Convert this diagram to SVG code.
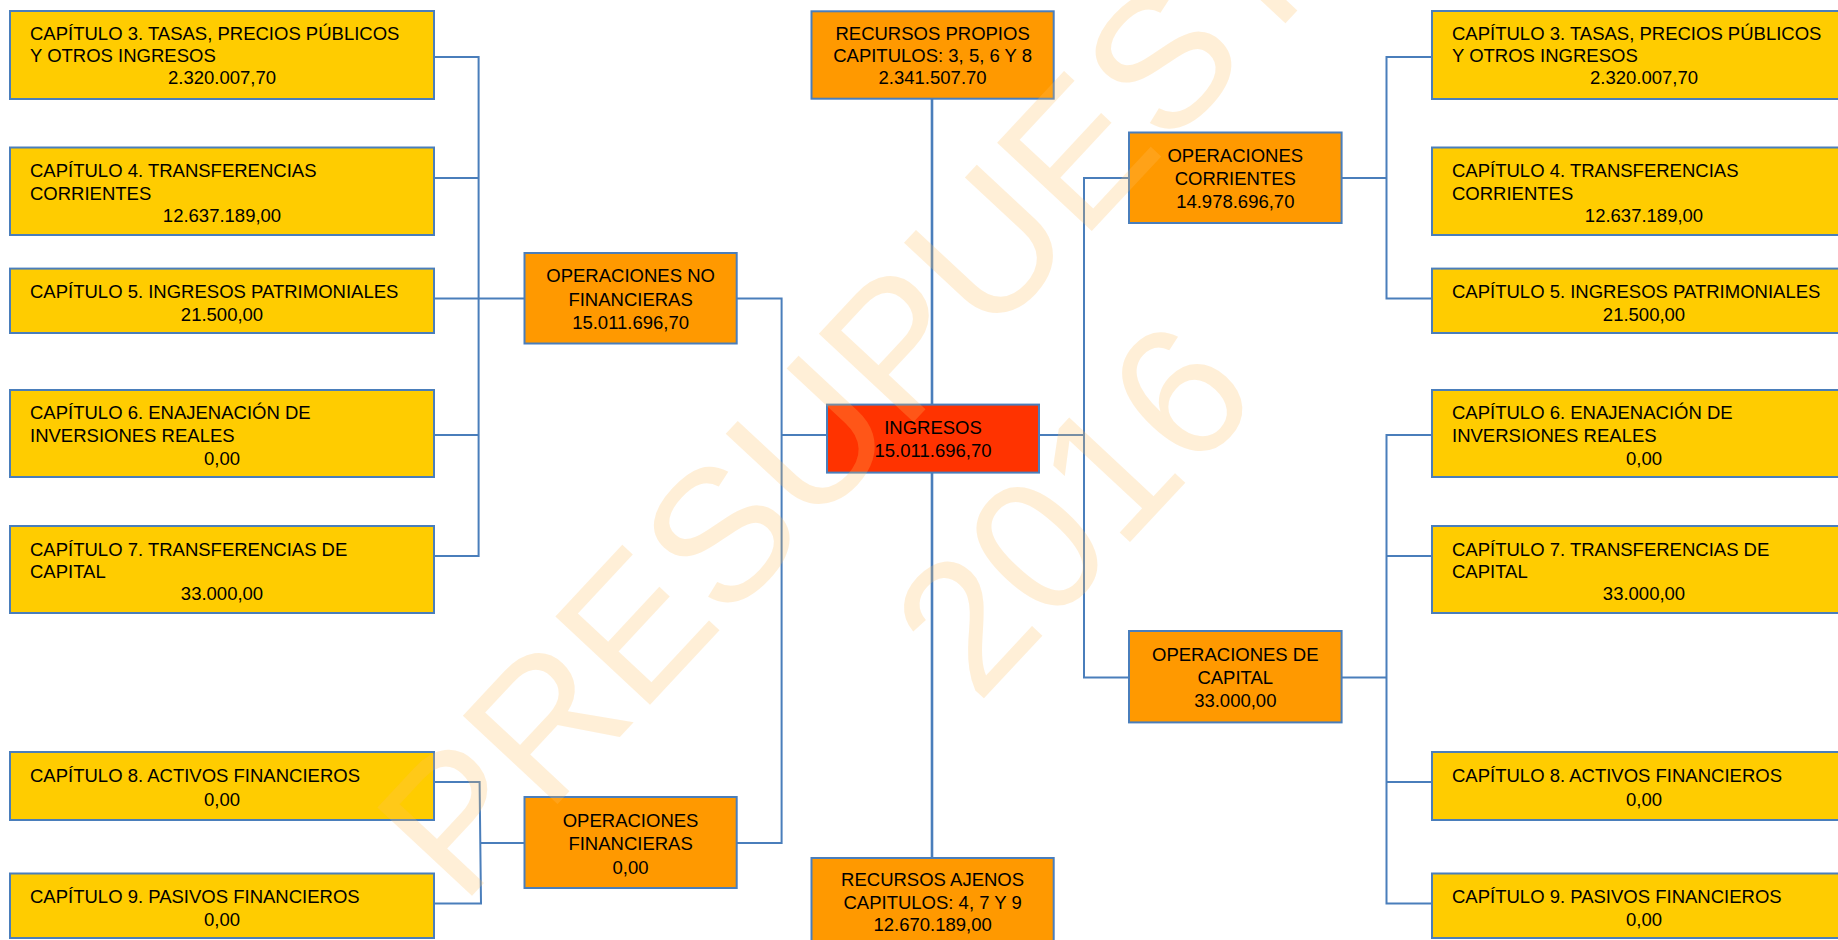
<svg xmlns="http://www.w3.org/2000/svg" width="1838" height="940" viewBox="0 0 1838 940">
<style>
.b{stroke:#4A7EBB;stroke-width:2}
.y{fill:#FFCC00}
.o{fill:#FF9900}
.r{fill:#FF3300}
text{font-family:"Liberation Sans",Arial,sans-serif;font-size:18.5px;fill:#000}
.c{text-anchor:middle}
.cn{fill:none;stroke:#4A7EBB;stroke-width:2}
.cm{fill:none;stroke:#4A7EBB;stroke-width:2.6}
.wm{font-family:"Liberation Sans",Arial,sans-serif;font-size:188px;fill:#FFC060;fill-opacity:0.25;text-anchor:middle}
</style>
<rect width="1838" height="940" fill="#fff"/>
<g id="connectors">
<path class="cn" d="M434,57 H478.6 V556 H434 M434,178 H478.6 M434,298.5 H524.5 M434,435 H478.6"/>
<path class="cn" d="M434,782 H479.6 L481,903.5 H434 M481,843 H524.5"/>
<path class="cn" d="M736.7,298.5 H781.6 V843 H736.7 M781.6,435 H827"/>
<path class="cm" d="M932,98.7 V404.6 M932,472.6 V858"/>
<path class="cn" d="M1039,435 H1084 M1129,178 H1084 V677.5 H1129"/>
<path class="cn" d="M1341.6,178 H1386.5 M1432,57 H1386.5 V298.5 H1432"/>
<path class="cn" d="M1341.6,677.5 H1386.5 M1432,435 H1386.5 V903.5 H1432 M1386.5,556 H1432 M1386.5,782 H1432"/>
</g>
<g id="l3"><rect class="b y" x="10" y="11" width="424" height="88"/><text x="30" y="39.5">CAPÍTULO 3. TASAS, PRECIOS PÚBLICOS</text><text x="30" y="62">Y OTROS INGRESOS</text><text class="c" x="222" y="84">2.320.007,70</text></g>
<g id="l4"><rect class="b y" x="10" y="147.5" width="424" height="87.5"/><text x="30" y="177">CAPÍTULO 4. TRANSFERENCIAS</text><text x="30" y="199.5">CORRIENTES</text><text class="c" x="222" y="222">12.637.189,00</text></g>
<g id="l5"><rect class="b y" x="10" y="268.6" width="424" height="64.4"/><text x="30" y="298">CAPÍTULO 5. INGRESOS PATRIMONIALES</text><text class="c" x="222" y="320.7">21.500,00</text></g>
<g id="l6"><rect class="b y" x="10" y="390" width="424" height="87"/><text x="30" y="419">CAPÍTULO 6. ENAJENACIÓN DE</text><text x="30" y="442">INVERSIONES REALES</text><text class="c" x="222" y="464.6">0,00</text></g>
<g id="l7"><rect class="b y" x="10" y="526" width="424" height="87"/><text x="30" y="556">CAPÍTULO 7. TRANSFERENCIAS DE</text><text x="30" y="578">CAPITAL</text><text class="c" x="222" y="600">33.000,00</text></g>
<g id="l8"><rect class="b y" x="10" y="752" width="424" height="68"/><text x="30" y="782">CAPÍTULO 8. ACTIVOS FINANCIEROS</text><text class="c" x="222" y="806">0,00</text></g>
<g id="l9"><rect class="b y" x="10" y="873.5" width="424" height="64.5"/><text x="30" y="903">CAPÍTULO 9. PASIVOS FINANCIEROS</text><text class="c" x="222" y="926">0,00</text></g>
<g id="onf"><rect class="b o" x="524.5" y="253" width="212.2" height="90.5"/><text class="c" x="630.6" y="282.4">OPERACIONES NO</text><text class="c" x="630.6" y="305.8">FINANCIERAS</text><text class="c" x="630.6" y="329">15.011.696,70</text></g>
<g id="of"><rect class="b o" x="524.5" y="797" width="212.2" height="91"/><text class="c" x="630.6" y="827.4">OPERACIONES</text><text class="c" x="630.6" y="850">FINANCIERAS</text><text class="c" x="630.6" y="873.5">0,00</text></g>
<g id="rp"><rect class="b o" x="811.5" y="11.3" width="242.2" height="87.4"/><text class="c" x="932.6" y="40">RECURSOS PROPIOS</text><text class="c" x="932.6" y="62.4">CAPITULOS: 3, 5, 6 Y 8</text><text class="c" x="932.6" y="84.4">2.341.507.70</text></g>
<g id="ing"><rect class="b r" x="827" y="404.6" width="212" height="68"/><text class="c" x="933" y="433.8">INGRESOS</text><text class="c" x="933" y="457.3">15.011.696,70</text></g>
<g id="ra"><rect class="b o" x="811.5" y="858" width="242.2" height="90"/><text class="c" x="932.6" y="886">RECURSOS AJENOS</text><text class="c" x="932.6" y="908.7">CAPITULOS: 4, 7 Y 9</text><text class="c" x="932.6" y="930.7">12.670.189,00</text></g>
<g id="oc"><rect class="b o" x="1129" y="132.5" width="212.6" height="90.5"/><text class="c" x="1235.3" y="162">OPERACIONES</text><text class="c" x="1235.3" y="184.6">CORRIENTES</text><text class="c" x="1235.3" y="208">14.978.696,70</text></g>
<g id="ocap"><rect class="b o" x="1129" y="631" width="212.6" height="91.4"/><text class="c" x="1235.3" y="660.7">OPERACIONES DE</text><text class="c" x="1235.3" y="684">CAPITAL</text><text class="c" x="1235.3" y="707.4">33.000,00</text></g>
<g id="r3"><rect class="b y" x="1432" y="11" width="424" height="88"/><text x="1452" y="39.5">CAPÍTULO 3. TASAS, PRECIOS PÚBLICOS</text><text x="1452" y="62">Y OTROS INGRESOS</text><text class="c" x="1644" y="84">2.320.007,70</text></g>
<g id="r4"><rect class="b y" x="1432" y="147.5" width="424" height="87.5"/><text x="1452" y="177">CAPÍTULO 4. TRANSFERENCIAS</text><text x="1452" y="199.5">CORRIENTES</text><text class="c" x="1644" y="222">12.637.189,00</text></g>
<g id="r5"><rect class="b y" x="1432" y="268.6" width="424" height="64.4"/><text x="1452" y="298">CAPÍTULO 5. INGRESOS PATRIMONIALES</text><text class="c" x="1644" y="320.7">21.500,00</text></g>
<g id="r6"><rect class="b y" x="1432" y="390" width="424" height="87"/><text x="1452" y="419">CAPÍTULO 6. ENAJENACIÓN DE</text><text x="1452" y="442">INVERSIONES REALES</text><text class="c" x="1644" y="464.6">0,00</text></g>
<g id="r7"><rect class="b y" x="1432" y="526" width="424" height="87"/><text x="1452" y="556">CAPÍTULO 7. TRANSFERENCIAS DE</text><text x="1452" y="578">CAPITAL</text><text class="c" x="1644" y="600">33.000,00</text></g>
<g id="r8"><rect class="b y" x="1432" y="752" width="424" height="68"/><text x="1452" y="782">CAPÍTULO 8. ACTIVOS FINANCIEROS</text><text class="c" x="1644" y="806">0,00</text></g>
<g id="r9"><rect class="b y" x="1432" y="873.5" width="424" height="64.5"/><text x="1452" y="903">CAPÍTULO 9. PASIVOS FINANCIEROS</text><text class="c" x="1644" y="926">0,00</text></g>
<g id="watermark" transform="rotate(-47)">
<text class="wm" x="360" y="956">PRESUPUESTO</text>
<text class="wm" x="360" y="1196">2016</text>
</g>
</svg>
